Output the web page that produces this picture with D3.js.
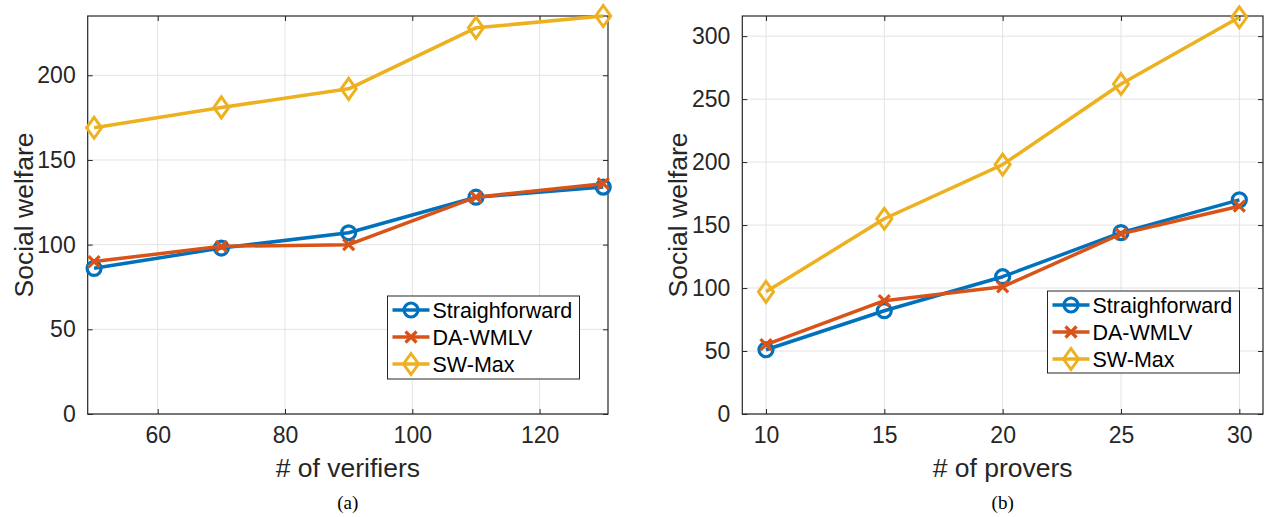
<!DOCTYPE html>
<html>
<head>
<meta charset="utf-8">
<script src="https://cdn.jsdelivr.net/npm/d3@7/dist/d3.min.js"></script>
<style>
  html, body { margin: 0; padding: 0; background: #fff; }
  svg { display: block; }
</style>
</head>
<body>
<svg id="chart" width="1265" height="517"></svg>
<script>
// ---------- data ----------
const seriesNames = ["Straighforward", "DA-WMLV", "SW-Max"];
const verifiers = [50, 70, 90, 110, 130];
const aStraight = [86, 98, 107, 128, 134];
const aDaWmlv = [90, 99, 100, 128, 136];
const aSwMax = [169, 181, 192, 228, 235];
const provers = [10, 15, 20, 25, 30];
const bStraight = [51, 82, 109, 144, 170];
const bDaWmlv = [55, 90, 101, 143, 165];
const bSwMax = [97, 155, 198, 262, 315];
const aXTicks = [60, 80, 100, 120];
const aYTicks = [0, 50, 100, 150, 200];
const bXTicks = [10, 15, 20, 25, 30];
const bYTicks = [0, 50, 100, 150, 200, 250, 300];

// ---------- style ----------
const colors = ["#0072BD", "#D95319", "#EDB120"];
const markers = ["circle", "cross", "diamond"];
const axisColor = "#262626";
const gridColor = "#e3e3e3";
const font = "'Liberation Sans', Arial, Helvetica, sans-serif";

const svg = d3.select("#chart");

function marker(g, type, x, y, color) {
  if (type === "circle") {
    g.append("circle").attr("cx", x).attr("cy", y).attr("r", 7)
      .attr("fill", "none").attr("stroke", color).attr("stroke-width", 3.2);
  } else if (type === "cross") {
    const s = 5.5;
    g.append("path")
      .attr("d", `M${x - s},${y - s}L${x + s},${y + s}M${x - s},${y + s}L${x + s},${y - s}`)
      .attr("stroke", color).attr("stroke-width", 3.2).attr("fill", "none");
  } else {
    const w = 7.5, h = 10.5;
    g.append("path")
      .attr("d", `M${x},${y - h}L${x + w},${y}L${x},${y + h}L${x - w},${y}Z`)
      .attr("stroke", color).attr("stroke-width", 3).attr("fill", "none")
      .attr("stroke-linejoin", "miter");
  }
}

function panel(opts) {
  const { left, right, top, bottom, xDomain, yDomain, xTicks, yTicks, xs, ys,
          xLabel, caption, yLabelX, legend } = opts;
  const x = d3.scaleLinear().domain(xDomain).range([left, right]);
  const y = d3.scaleLinear().domain(yDomain).range([bottom, top]);
  const g = svg.append("g");

  // grid
  g.append("g").selectAll("line").data(xTicks).join("line")
    .attr("x1", d => x(d)).attr("x2", d => x(d)).attr("y1", top).attr("y2", bottom)
    .attr("stroke", gridColor).attr("stroke-width", 1);
  g.append("g").selectAll("line").data(yTicks).join("line")
    .attr("y1", d => y(d)).attr("y2", d => y(d)).attr("x1", left).attr("x2", right)
    .attr("stroke", gridColor).attr("stroke-width", 1);

  // axes (ticks inward, labels outside)
  const tl = 5;
  const xb = d3.axisBottom(x).tickValues(xTicks).tickSize(-tl).tickPadding(13).tickFormat(d3.format("d"));
  const xt = d3.axisTop(x).tickValues(xTicks).tickSize(-tl).tickFormat("");
  const yl = d3.axisLeft(y).tickValues(yTicks).tickSize(-tl).tickPadding(12).tickFormat(d3.format("d"));
  const yr = d3.axisRight(y).tickValues(yTicks).tickSize(-tl).tickFormat("");
  const styleAxis = a => {
    a.select(".domain").remove();
    a.selectAll("line").attr("stroke", axisColor);
    a.selectAll("text").attr("fill", axisColor).style("font-family", font).style("font-size", "23px");
  };
  g.append("g").attr("transform", `translate(0,${bottom})`).call(xb).call(styleAxis);
  g.append("g").attr("transform", `translate(0,${top})`).call(xt).call(styleAxis);
  g.append("g").attr("transform", `translate(${left},0)`).call(yl).call(styleAxis);
  g.append("g").attr("transform", `translate(${right},0)`).call(yr).call(styleAxis);
  g.append("rect").attr("x", left).attr("y", top).attr("width", right - left).attr("height", bottom - top)
    .attr("fill", "none").attr("stroke", axisColor).attr("stroke-width", 1.2);

  // series
  const line = d3.line().x(d => x(d[0])).y(d => y(d[1]));
  ys.forEach((vals, i) => {
    const pts = xs.map((xv, j) => [xv, vals[j]]);
    g.append("path").datum(pts).attr("d", line).attr("fill", "none")
      .attr("stroke", colors[i]).attr("stroke-width", 3.5).attr("stroke-linejoin", "round");
    pts.forEach(p => marker(g, markers[i], x(p[0]), y(p[1]), colors[i]));
  });

  // labels
  const cx = (left + right) / 2;
  g.append("text").attr("x", cx).attr("y", 477).attr("text-anchor", "middle")
    .attr("fill", axisColor).style("font-family", font).style("font-size", "26.5px").text(xLabel);
  g.append("text").attr("transform", `translate(${yLabelX},${(top + bottom) / 2}) rotate(-90)`)
    .attr("text-anchor", "middle").attr("fill", axisColor)
    .style("font-family", font).style("font-size", "26.5px").text("Social welfare");
  g.append("text").attr("x", cx).attr("y", 509).attr("text-anchor", "middle")
    .attr("fill", "#000").style("font-family", "'Liberation Serif', 'Times New Roman', serif")
    .style("font-size", "19px").text(caption);

  // legend
  const lg = g.append("g");
  lg.append("rect").attr("x", legend.x).attr("y", legend.y).attr("width", legend.w).attr("height", legend.h)
    .attr("fill", "#fff").attr("stroke", axisColor).attr("stroke-width", 1);
  seriesNames.forEach((name, i) => {
    const ry = legend.y + 14 + i * 27;
    lg.append("line").attr("x1", legend.x + 5).attr("x2", legend.x + 42).attr("y1", ry).attr("y2", ry)
      .attr("stroke", colors[i]).attr("stroke-width", 3.5);
    marker(lg, markers[i], legend.x + 23.5, ry, colors[i]);
    lg.append("text").attr("x", legend.x + 45).attr("y", ry + 8)
      .attr("fill", "#000").style("font-family", font).style("font-size", "21.5px").text(name);
  });
}

panel({
  left: 87.7, right: 608, top: 16, bottom: 414,
  xDomain: [49, 130.75], yDomain: [0, 235],
  xTicks: aXTicks, yTicks: aYTicks, xs: verifiers, ys: [aStraight, aDaWmlv, aSwMax],
  xLabel: "# of verifiers", caption: "(a)", yLabelX: 33,
  legend: { x: 387.5, y: 296, w: 192, h: 83 }
});
panel({
  left: 742.3, right: 1263, top: 16, bottom: 414,
  xDomain: [9, 31], yDomain: [0, 316],
  xTicks: bXTicks, yTicks: bYTicks, xs: provers, ys: [bStraight, bDaWmlv, bSwMax],
  xLabel: "# of provers", caption: "(b)", yLabelX: 687,
  legend: { x: 1047.5, y: 291, w: 192, h: 82 }
});
</script>
</body>
</html>
